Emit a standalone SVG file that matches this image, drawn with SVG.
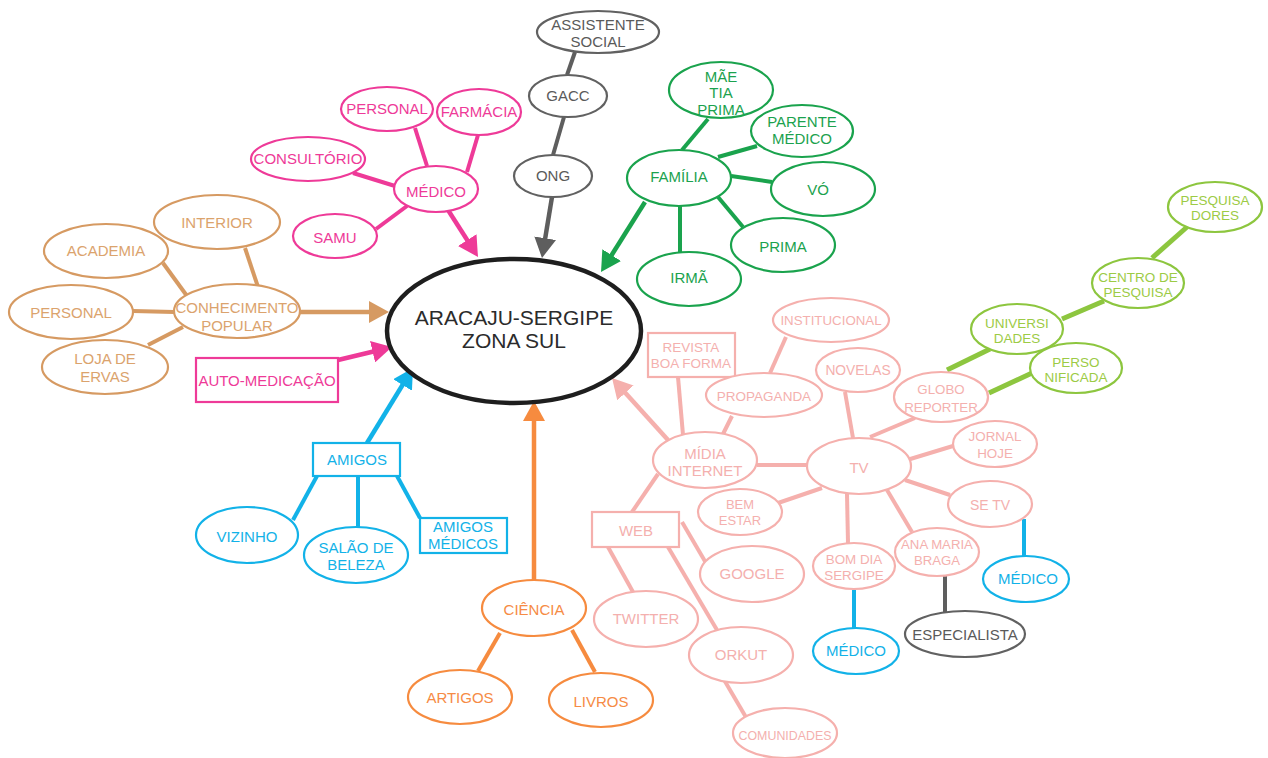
<svg xmlns="http://www.w3.org/2000/svg" width="1268" height="758" viewBox="0 0 1268 758">
  <style>
    text { font-family: "Liberation Sans", Arial, sans-serif; font-size: 15px; text-anchor: middle; }
    ellipse, rect { fill: #ffffff; stroke-width: 2.2; }
    line { stroke-width: 4; stroke-linecap: butt; }
    .arrow { stroke-width: 4.5; }
    .pk ellipse, .pk rect { stroke: #ee3a98; } .pk text { fill: #ee3a98; } line.pk { stroke: #ee3a98; }
    .gy ellipse { stroke: #616161; } .gy text { fill: #5a5a5a; } line.gy { stroke: #5e5e5e; }
    .gn ellipse { stroke: #1aa34d; } .gn text { fill: #1ba24e; } line.gn { stroke: #1aa34d; }
    .tn ellipse { stroke: #d69a62; } .tn text { fill: #dba36d; } line.tn { stroke: #d69a62; }
    .bl ellipse, .bl rect { stroke: #12b2e8; } .bl text { fill: #12b2e8; } line.bl { stroke: #12b2e8; }
    .or ellipse { stroke: #f68b3f; } .or text { fill: #f68b45; } line.or { stroke: #f68b3f; }
    .lp ellipse, .lp rect { stroke: #f5b0ad; } .lp text { fill: #f4b0ae; } line.lp { stroke: #f5b0ad; }
    .lm ellipse { stroke: #8dc63f; } .lm text { fill: #9ccb45; font-size: 13.5px; } line.lm { stroke: #8dc63f; stroke-width: 5; }
  </style>
  <defs>
    <marker id="ah-pk" viewBox="0 0 20 22" markerWidth="20" markerHeight="22" refX="2" refY="11" orient="auto" markerUnits="userSpaceOnUse"><path d="M0,0 L20,11 L0,22 z" fill="#ee3a98"/></marker>
    <marker id="ah-gy" viewBox="0 0 20 22" markerWidth="20" markerHeight="22" refX="2" refY="11" orient="auto" markerUnits="userSpaceOnUse"><path d="M0,0 L20,11 L0,22 z" fill="#5e5e5e"/></marker>
    <marker id="ah-gn" viewBox="0 0 20 22" markerWidth="20" markerHeight="22" refX="2" refY="11" orient="auto" markerUnits="userSpaceOnUse"><path d="M0,0 L20,11 L0,22 z" fill="#1aa34d"/></marker>
    <marker id="ah-tn" viewBox="0 0 20 22" markerWidth="20" markerHeight="22" refX="2" refY="11" orient="auto" markerUnits="userSpaceOnUse"><path d="M0,0 L20,11 L0,22 z" fill="#d69a62"/></marker>
    <marker id="ah-bl" viewBox="0 0 20 22" markerWidth="20" markerHeight="22" refX="2" refY="11" orient="auto" markerUnits="userSpaceOnUse"><path d="M0,0 L20,11 L0,22 z" fill="#12b2e8"/></marker>
    <marker id="ah-or" viewBox="0 0 20 22" markerWidth="20" markerHeight="22" refX="2" refY="11" orient="auto" markerUnits="userSpaceOnUse"><path d="M0,0 L20,11 L0,22 z" fill="#f68b3f"/></marker>
    <marker id="ah-lp" viewBox="0 0 20 22" markerWidth="20" markerHeight="22" refX="2" refY="11" orient="auto" markerUnits="userSpaceOnUse"><path d="M0,0 L20,11 L0,22 z" fill="#f5b0ad"/></marker>
  </defs>

  <!-- connectors -->
  <g id="connectors">
    <!-- arrows into the centre -->
    <line class="pk arrow" x1="448" y1="210" x2="468.3" y2="241.8" marker-end="url(#ah-pk)"/>
    <line class="gy arrow" x1="552" y1="197" x2="544.9" y2="240.2" marker-end="url(#ah-gy)"/>
    <line class="gn arrow" x1="645" y1="202" x2="610.6" y2="256.8" marker-end="url(#ah-gn)"/>
    <line class="tn arrow" x1="300" y1="312" x2="371" y2="312" marker-end="url(#ah-tn)"/>
    <line class="pk arrow" x1="338" y1="360" x2="374.5" y2="351.2" marker-end="url(#ah-pk)"/>
    <line class="bl arrow" x1="367" y1="443" x2="403.6" y2="383.3" marker-end="url(#ah-bl)"/>
    <line class="or arrow" x1="534" y1="580" x2="534" y2="419" marker-end="url(#ah-or)"/>
    <line class="lp arrow" x1="668" y1="440" x2="624.1" y2="391.4" marker-end="url(#ah-lp)"/>
    <!-- médico branch -->
    <line class="pk" x1="415" y1="128" x2="427" y2="166"/>
    <line class="pk" x1="478" y1="135" x2="467" y2="172"/>
    <line class="pk" x1="353" y1="173" x2="395" y2="186"/>
    <line class="pk" x1="376" y1="229" x2="407" y2="206"/>
    <!-- ong chain -->
    <line class="gy" x1="575" y1="52" x2="567" y2="75"/>
    <line class="gy" x1="564" y1="117" x2="553" y2="155"/>
    <!-- família branch -->
    <line class="gn" x1="682" y1="150" x2="708" y2="119"/>
    <line class="gn" x1="718" y1="157" x2="757" y2="146"/>
    <line class="gn" x1="731" y1="176" x2="772" y2="182"/>
    <line class="gn" x1="718" y1="197" x2="743" y2="227"/>
    <line class="gn" x1="680" y1="205" x2="680" y2="252"/>
    <!-- conhecimento popular branch -->
    <line class="tn" x1="245" y1="248" x2="258" y2="287"/>
    <line class="tn" x1="163" y1="263" x2="187" y2="296"/>
    <line class="tn" x1="133" y1="311" x2="174" y2="312"/>
    <line class="tn" x1="148" y1="345" x2="183" y2="327"/>
    <!-- amigos branch -->
    <line class="bl" x1="317" y1="476" x2="293" y2="520"/>
    <line class="bl" x1="358" y1="476" x2="358" y2="527"/>
    <line class="bl" x1="397" y1="476" x2="420" y2="518"/>
    <!-- ciência branch -->
    <line class="or" x1="500" y1="633" x2="478" y2="671"/>
    <line class="or" x1="572" y1="630" x2="595" y2="672"/>
    <!-- mídia / tv branch -->
    <line class="lp" x1="678" y1="377" x2="683" y2="435"/>
    <line class="lp" x1="732" y1="416" x2="723" y2="434"/>
    <line class="lp" x1="786" y1="337" x2="770" y2="373"/>
    <line class="lp" x1="757" y1="465" x2="807" y2="465"/>
    <line class="lp" x1="845" y1="392" x2="853" y2="438"/>
    <line class="lp" x1="870" y1="437" x2="915" y2="418"/>
    <line class="lp" x1="907" y1="460" x2="953" y2="446"/>
    <line class="lp" x1="905" y1="480" x2="950" y2="495"/>
    <line class="lp" x1="778" y1="503" x2="822" y2="488"/>
    <line class="lp" x1="847" y1="494" x2="848" y2="543"/>
    <line class="lp" x1="887" y1="490" x2="912" y2="532"/>
    <line class="lp" x1="658" y1="474" x2="632" y2="512"/>
    <line class="lp" x1="608" y1="547" x2="633" y2="592"/>
    <line class="lp" x1="668" y1="547" x2="717" y2="630"/>
    <line class="lp" x1="682" y1="522" x2="706" y2="563"/>
    <line class="lp" x1="723" y1="678" x2="747" y2="719"/>
    <!-- tv sub-branches -->
    <line class="bl" x1="854" y1="590" x2="854" y2="628"/>
    <line class="bl" x1="1024" y1="519" x2="1024" y2="556"/>
    <line class="gy" x1="945" y1="575" x2="945" y2="612"/>
    <!-- research chain -->
    <line class="lm" x1="947" y1="370" x2="990" y2="349"/>
    <line class="lm" x1="1062" y1="319" x2="1104" y2="301"/>
    <line class="lm" x1="1152" y1="258" x2="1187" y2="227"/>
    <line class="lm" x1="989" y1="393" x2="1032" y2="373"/>
  </g>

  <!-- central node -->
  <g id="n-aracaju">
    <ellipse cx="514" cy="331" rx="127" ry="72" style="stroke:#1e1e1e;stroke-width:4.5"/>
    <text x="514" y="325" style="font-size:21px;fill:#2b2b2b">ARACAJU-SERGIPE</text>
    <text x="514" y="348" style="font-size:21px;fill:#2b2b2b">ZONA SUL</text>
  </g>

  <!-- médico branch -->
  <g id="n-personal-medico" class="pk"><ellipse cx="387" cy="109" rx="46" ry="22"/><text x="387" y="114">PERSONAL</text></g>
  <g id="n-farmacia" class="pk"><ellipse cx="479" cy="112" rx="42" ry="23"/><text x="479" y="117">FARMÁCIA</text></g>
  <g id="n-consultorio" class="pk"><ellipse cx="308" cy="159" rx="57" ry="22"/><text x="308" y="164">CONSULTÓRIO</text></g>
  <g id="n-medico" class="pk"><ellipse cx="436" cy="189" rx="42" ry="23"/><text x="436" y="197">MÉDICO</text></g>
  <g id="n-samu" class="pk"><ellipse cx="335" cy="236" rx="42" ry="22"/><text x="335" y="243">SAMU</text></g>
  <g id="n-automedicacao" class="pk"><rect x="196" y="358" width="142" height="44"/><text x="267" y="386">AUTO-MEDICAÇÃO</text></g>

  <!-- ong chain -->
  <g id="n-assistente" class="gy"><ellipse cx="598" cy="32" rx="61" ry="21"/><text x="598" y="30">ASSISTENTE</text><text x="598" y="47">SOCIAL</text></g>
  <g id="n-gacc" class="gy"><ellipse cx="568" cy="96" rx="39" ry="21"/><text x="568" y="101">GACC</text></g>
  <g id="n-ong" class="gy"><ellipse cx="553" cy="176" rx="39" ry="21"/><text x="553" y="181">ONG</text></g>

  <!-- família branch -->
  <g id="n-mae" class="gn"><ellipse cx="721" cy="90" rx="52" ry="28"/><text x="721" y="82">MÃE</text><text x="721" y="98">TIA</text><text x="721" y="115">PRIMA</text></g>
  <g id="n-parente" class="gn"><ellipse cx="802" cy="131" rx="51" ry="26"/><text x="802" y="127">PARENTE</text><text x="802" y="144">MÉDICO</text></g>
  <g id="n-familia" class="gn"><ellipse cx="679" cy="178" rx="52" ry="28"/><text x="679" y="182">FAMÍLIA</text></g>
  <g id="n-vo" class="gn"><ellipse cx="823" cy="189" rx="52" ry="27"/><text x="818" y="195">VÓ</text></g>
  <g id="n-prima" class="gn"><ellipse cx="783" cy="245" rx="52" ry="27"/><text x="783" y="252">PRIMA</text></g>
  <g id="n-irma" class="gn"><ellipse cx="689" cy="279" rx="52" ry="27"/><text x="689" y="283">IRMÃ</text></g>

  <!-- conhecimento popular branch -->
  <g id="n-interior" class="tn"><ellipse cx="217" cy="222" rx="63" ry="27"/><text x="217" y="228">INTERIOR</text></g>
  <g id="n-academia" class="tn"><ellipse cx="106" cy="251" rx="62" ry="27"/><text x="106" y="256">ACADEMIA</text></g>
  <g id="n-personal-popular" class="tn"><ellipse cx="71" cy="312" rx="62" ry="27"/><text x="71" y="318">PERSONAL</text></g>
  <g id="n-conhecimento" class="tn"><ellipse cx="237" cy="311" rx="63" ry="27"/><text x="237" y="313">CONHECIMENTO</text><text x="237" y="331">POPULAR</text></g>
  <g id="n-loja" class="tn"><ellipse cx="105" cy="367" rx="63" ry="27"/><text x="105" y="364">LOJA DE</text><text x="105" y="382">ERVAS</text></g>

  <!-- amigos branch -->
  <g id="n-amigos" class="bl"><rect x="313" y="443" width="87" height="33"/><text x="357" y="465">AMIGOS</text></g>
  <g id="n-vizinho" class="bl"><ellipse cx="247" cy="535" rx="51" ry="28"/><text x="247" y="542">VIZINHO</text></g>
  <g id="n-salao" class="bl"><ellipse cx="356" cy="555" rx="52" ry="28"/><text x="356" y="553">SALÃO DE</text><text x="356" y="570">BELEZA</text></g>
  <g id="n-amigos-medicos" class="bl"><rect x="420" y="518" width="87" height="35"/><text x="463" y="532">AMIGOS</text><text x="463" y="549">MÉDICOS</text></g>

  <!-- ciência branch -->
  <g id="n-ciencia" class="or"><ellipse cx="534" cy="608" rx="52" ry="28"/><text x="534" y="615">CIÊNCIA</text></g>
  <g id="n-artigos" class="or"><ellipse cx="460" cy="697" rx="52" ry="27"/><text x="460" y="703">ARTIGOS</text></g>
  <g id="n-livros" class="or"><ellipse cx="601" cy="700" rx="52" ry="27"/><text x="601" y="707">LIVROS</text></g>

  <!-- mídia / tv branch -->
  <g id="n-institucional" class="lp"><ellipse cx="831" cy="320" rx="58" ry="22"/><text x="831" y="325" style="font-size:13.3px">INSTITUCIONAL</text></g>
  <g id="n-revista" class="lp"><rect x="648" y="333" width="87" height="44"/><text x="691" y="352" style="font-size:13.5px">REVISTA</text><text x="691" y="368" style="font-size:13.5px">BOA FORMA</text></g>
  <g id="n-propaganda" class="lp"><ellipse cx="764" cy="395" rx="58" ry="22"/><text x="764" y="401" style="font-size:13.5px">PROPAGANDA</text></g>
  <g id="n-novelas" class="lp"><ellipse cx="858" cy="370" rx="42" ry="22"/><text x="858" y="375" style="font-size:13.8px">NOVELAS</text></g>
  <g id="n-midia" class="lp"><ellipse cx="705" cy="460" rx="52" ry="28"/><text x="705" y="459">MÍDIA</text><text x="705" y="476">INTERNET</text></g>
  <g id="n-tv" class="lp"><ellipse cx="859" cy="466" rx="52" ry="28"/><text x="859" y="473">TV</text></g>
  <g id="n-globo" class="lp"><ellipse cx="941" cy="397" rx="47" ry="25"/><text x="941" y="394" style="font-size:13.3px">GLOBO</text><text x="941" y="412" style="font-size:13.3px">REPORTER</text></g>
  <g id="n-jornal" class="lp"><ellipse cx="995" cy="444" rx="42" ry="23"/><text x="995" y="441" style="font-size:13.4px">JORNAL</text><text x="995" y="458" style="font-size:13.4px">HOJE</text></g>
  <g id="n-setv" class="lp"><ellipse cx="990" cy="504" rx="42" ry="23"/><text x="990" y="510" style="font-size:14px">SE TV</text></g>
  <g id="n-bemestar" class="lp"><ellipse cx="740" cy="512" rx="42" ry="23"/><text x="740" y="509" style="font-size:13px">BEM</text><text x="740" y="525" style="font-size:13px">ESTAR</text></g>
  <g id="n-web" class="lp"><rect x="592" y="512" width="87" height="35"/><text x="636" y="536">WEB</text></g>
  <g id="n-google" class="lp"><ellipse cx="752" cy="574" rx="52" ry="28"/><text x="752" y="579">GOOGLE</text></g>
  <g id="n-twitter" class="lp"><ellipse cx="646" cy="619" rx="52" ry="28"/><text x="646" y="624">TWITTER</text></g>
  <g id="n-orkut" class="lp"><ellipse cx="741" cy="655" rx="52" ry="28"/><text x="741" y="660">ORKUT</text></g>
  <g id="n-comunidades" class="lp"><ellipse cx="785" cy="733" rx="52" ry="25"/><text x="785" y="740" style="font-size:12.4px">COMUNIDADES</text></g>
  <g id="n-bomdia" class="lp"><ellipse cx="854" cy="566" rx="41" ry="23"/><text x="854" y="564" style="font-size:13.4px">BOM DIA</text><text x="854" y="580" style="font-size:13.4px">SERGIPE</text></g>
  <g id="n-anamaria" class="lp"><ellipse cx="937" cy="552" rx="42" ry="24"/><text x="937" y="549" style="font-size:13.2px">ANA MARIA</text><text x="937" y="565" style="font-size:13.2px">BRAGA</text></g>

  <!-- tv sub-branches -->
  <g id="n-medico-bomdia" class="bl"><ellipse cx="856" cy="651" rx="43" ry="23"/><text x="856" y="656">MÉDICO</text></g>
  <g id="n-medico-setv" class="bl"><ellipse cx="1026" cy="579" rx="43" ry="23"/><text x="1028" y="584">MÉDICO</text></g>
  <g id="n-especialista" class="gy"><ellipse cx="965" cy="634" rx="60" ry="23"/><text x="965" y="640">ESPECIALISTA</text></g>

  <!-- research chain -->
  <g id="n-pesquisadores" class="lm"><ellipse cx="1215" cy="207" rx="47" ry="25"/><text x="1215" y="205">PESQUISA</text><text x="1215" y="220">DORES</text></g>
  <g id="n-centro" class="lm"><ellipse cx="1138" cy="283" rx="46" ry="25"/><text x="1138" y="282">CENTRO DE</text><text x="1138" y="297">PESQUISA</text></g>
  <g id="n-universidades" class="lm"><ellipse cx="1017" cy="329" rx="46" ry="25"/><text x="1017" y="328">UNIVERSI</text><text x="1017" y="343">DADES</text></g>
  <g id="n-personificada" class="lm"><ellipse cx="1076" cy="368" rx="46" ry="25"/><text x="1076" y="367">PERSO</text><text x="1076" y="382">NIFICADA</text></g>
</svg>
